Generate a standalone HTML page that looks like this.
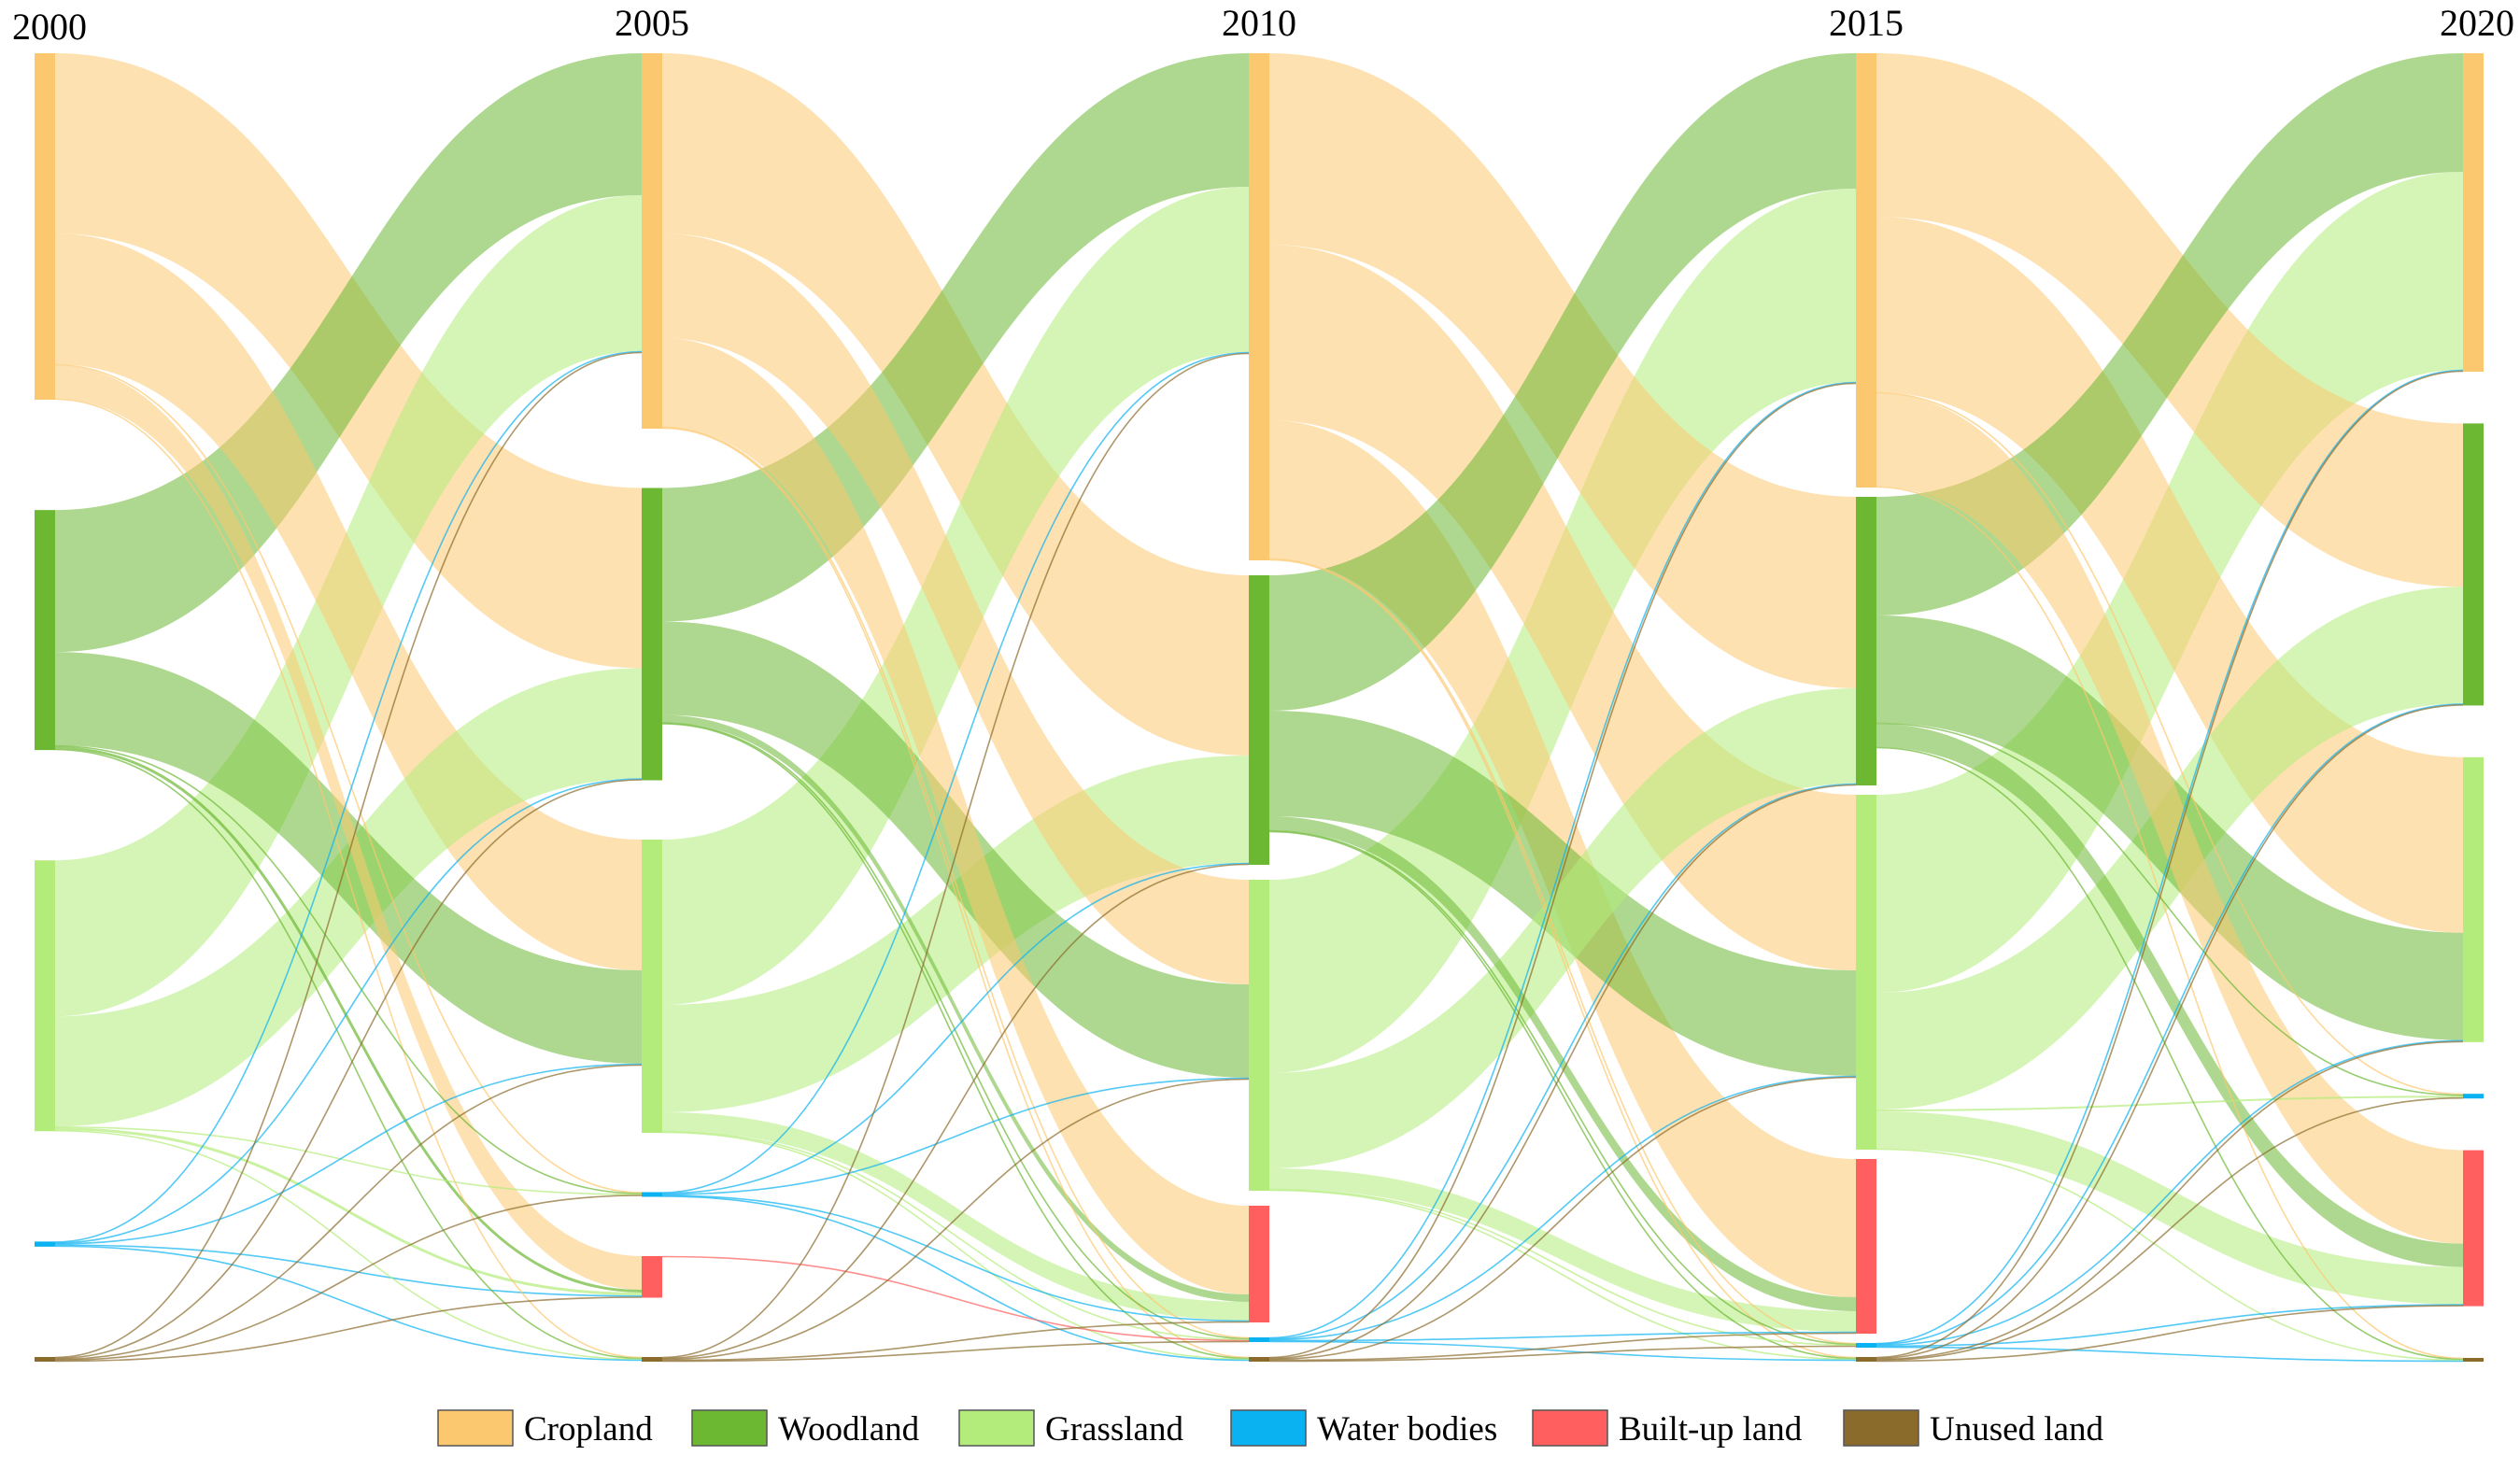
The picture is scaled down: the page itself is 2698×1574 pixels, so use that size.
<!DOCTYPE html>
<html><head><meta charset="utf-8"><style>
html,body{margin:0;padding:0;background:#fff;}
svg{display:block;font-family:"Liberation Serif",serif;}
</style></head><body>
<svg id="chart" width="2698" height="1574" viewBox="0 0 2698 1574" xmlns="http://www.w3.org/2000/svg">
<g id="links"></g>
<g id="nodes"></g>
<g id="labels"></g>
<g id="legend"></g>
</svg>
<script>
const years = ["2000","2005","2010","2015","2020"];
const categories = ["Cropland","Woodland","Grassland","Water bodies","Built-up land","Unused land"];
// node order (top to bottom) in each year column
const order2000 = [0,1,2,3,5];
const order2005 = [0,1,2,3,4,5];
const order2010 = [0,1,2,4,3,5];
const order2015 = [0,1,2,4,3,5];
const order2020 = [0,1,2,3,4,5];
// flows [source, target, value]
const flows0005 = [[0,1,193],[0,2,140],[0,4,36],[0,3,1],[0,5,1],
  [1,0,152],[1,2,100],[1,3,1],[1,4,3],[1,5,1],
  [2,0,167],[2,1,118],[2,3,1],[2,4,3],[2,5,1],
  [3,0,1],[3,1,1],[3,2,1],[3,4,1.5],[3,5,1],
  [5,0,1],[5,1,1],[5,2,1],[5,3,1],[5,4,1]];
const flows0510 = [[0,1,193],[0,2,112],[0,4,95],[0,3,1],[0,5,1],
  [1,0,143],[1,2,100],[1,4,8],[1,3,1],[1,5,1],
  [2,0,177],[2,1,115],[2,4,20],[2,3,1],[2,5,1],
  [3,0,1],[3,1,1],[3,2,1],[3,4,1],[3,5,1],
  [4,3,1],
  [5,0,1],[5,1,1],[5,2,1],[5,3,1],[5,4,1]];
const flows1015 = [[0,1,205],[0,2,188],[0,4,148],[0,3,1],[0,5,1],
  [1,0,145],[1,2,113],[1,4,15],[1,3,1],[1,5,1],
  [2,0,207],[2,1,102],[2,4,22],[2,3,1],[2,5,1],
  [3,0,1],[3,1,1],[3,2,1],[3,4,1],[3,5,1],
  [5,0,1],[5,1,1],[5,2,1],[5,4,1],[5,3,1]];
const flows1520 = [[0,1,175],[0,2,188],[0,4,100],[0,3,1],[0,5,1],
  [1,0,127],[1,2,115],[1,4,25],[1,3,1],[1,5,1],
  [2,0,212],[2,1,125],[2,3,2],[2,4,40],[2,5,1],
  [3,0,1],[3,1,1],[3,2,1],[3,4,1],[3,5,1],
  [5,0,1],[5,1,1],[5,2,1],[5,3,1],[5,4,1]];

const colors = ["#fcc86f","#6cb833","#b3ec7b","#0ab2f2","#ff5f5f","#8a6b2c"];
const orders = [order2000,order2005,order2010,order2015,order2020];
const periods = [flows0005,flows0510,flows1015,flows1520];
const NS = "http://www.w3.org/2000/svg";
const X0 = 37, DX = 650, NW = 22, YTOP = 57, YBOT = 1458, MINH = 4;
const xOf = c => X0 + c*DX;

const nodes = orders.map((ord,c) => {
  const m = {};
  ord.forEach(k => {
    let inn = 0, out = 0;
    if (c > 0) periods[c-1].forEach(f => { if (f[1]===k) inn += f[2]; });
    if (c < 4) periods[c].forEach(f => { if (f[0]===k) out += f[2]; });
    m[k] = {k, c, v: Math.max(inn,out), inOff:0, outOff:0};
  });
  return m;
});
nodes.forEach((m,c) => {
  const ord = orders[c];
  const tot = ord.reduce((s,k)=>s+Math.max(m[k].v,MINH),0);
  const gap = (YBOT-YTOP-tot)/(ord.length-1);
  let y = YTOP;
  ord.forEach(k => { const n=m[k]; n.y0=y; n.h=Math.max(n.v,MINH); n.y1=y+n.h; y=n.y1+gap; });
});

const linkG = document.getElementById('links');
periods.forEach((fl,c) => {
  const src = nodes[c], tgt = nodes[c+1];
  const ls = fl.map(f => ({s:src[f[0]], t:tgt[f[1]], v:f[2], k:f[0]}));
  Object.values(src).forEach(n => {
    ls.filter(l=>l.s===n).sort((a,b)=>a.t.y0-b.t.y0).forEach(l => { l.sy = n.y0+n.outOff; n.outOff += l.v; });
  });
  Object.values(tgt).forEach(n => {
    ls.filter(l=>l.t===n).sort((a,b)=>a.s.y0-b.s.y0).forEach(l => { l.ty = n.y0+n.inOff; n.inOff += l.v; });
  });
  ls.sort((a,b)=>b.v-a.v).forEach(l => {
    const x1 = xOf(c)+NW, x2 = xOf(c+1), xm = (x1+x2)/2;
    const p = document.createElementNS(NS,'path');
    if (l.v > 5) {
      const a = l.sy, b = l.ty, a2 = l.sy+l.v, b2 = l.ty+l.v;
      p.setAttribute('d',`M${x1},${a}C${xm},${a} ${xm},${b} ${x2},${b}L${x2},${b2}C${xm},${b2} ${xm},${a2} ${x1},${a2}Z`);
      p.setAttribute('fill',colors[l.k]);
      p.setAttribute('fill-opacity',0.55);
    } else {
      const a = l.sy+l.v/2, b = l.ty+l.v/2;
      p.setAttribute('d',`M${x1},${a}C${xm},${a} ${xm},${b} ${x2},${b}`);
      p.setAttribute('fill','none');
      p.setAttribute('stroke',colors[l.k]);
      p.setAttribute('stroke-width',Math.max(l.v,1.6));
      p.setAttribute('stroke-opacity',0.7);
    }
    
    
    linkG.appendChild(p);
  });
});

const nodeG = document.getElementById('nodes');
nodes.forEach((m,c) => {
  Object.values(m).forEach(n => {
    const r = document.createElementNS(NS,'rect');
    r.setAttribute('x',xOf(c)); r.setAttribute('y',n.y0);
    r.setAttribute('width',NW); r.setAttribute('height',n.h);
    r.setAttribute('fill',colors[n.k]);
    
    
    nodeG.appendChild(r);
  });
});

const labG = document.getElementById('labels');
years.forEach((yr,c) => {
  const t = document.createElementNS(NS,'text');
  let x = xOf(c)+NW/2, anchor='middle';
  if (c===0) { x = 13; anchor='start'; }
  if (c===4) { x = 2692; anchor='end'; }
  t.setAttribute('x',x); t.setAttribute('y',c===0?42:38);
  t.setAttribute('text-anchor',anchor);
  t.setAttribute('font-size','40');
  t.setAttribute('fill','#000');
  t.textContent = yr;
  
  
  labG.appendChild(t);
});

const legX = [469,741,1027,1318,1641,1974];
const legG = document.getElementById('legend');
categories.forEach((cat,i) => {
  const g = document.createElementNS(NS,'g');
  
  
  const r = document.createElementNS(NS,'rect');
  r.setAttribute('x',legX[i]); r.setAttribute('y',1510); r.setAttribute('width',80); r.setAttribute('height',38);
  r.setAttribute('fill',colors[i]); r.setAttribute('stroke','#555'); r.setAttribute('stroke-width','1.5');
  
  
  const t = document.createElementNS(NS,'text');
  t.setAttribute('x',legX[i]+92); t.setAttribute('y',1542); t.setAttribute('font-size','37'); t.setAttribute('fill','#000');
  t.textContent = cat;
  
  
  g.appendChild(r); g.appendChild(t); legG.appendChild(g);
});
</script>
</body></html>
